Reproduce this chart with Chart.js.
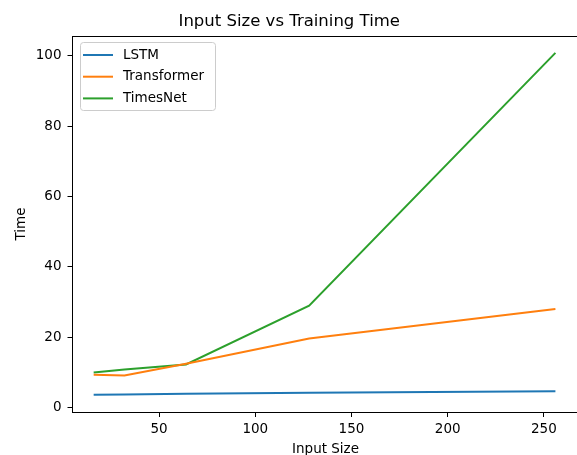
<!DOCTYPE html>
<html>
<head>
<meta charset="utf-8">
<script src="https://cdn.jsdelivr.net/npm/chart.js@4"></script>
<style>
  html, body { margin: 0; padding: 0; background: #fff; overflow: hidden; }
  #wrap { position: relative; width: 580px; height: 455px; }
</style>
</head>
<body>
<div id="wrap"><canvas id="chart"></canvas></div>
<script>
const inputSizes = [16, 32, 64, 128, 256];
const lstmTime = [3.6, 3.7, 3.9, 4.2, 4.6];
const transformerTime = [9.3, 9.1, 12.4, 19.6, 28.0];
const timesNetTime = [9.9, 10.8, 12.2, 28.9, 100.8];
const xTicks = [50, 100, 150, 200, 250];
const yTicks = [0, 20, 40, 60, 80, 100];

const colors = {
  blue: "#1f77b4",
  orange: "#ff7f0e",
  green: "#2ca02c",
  ink: "#000000",
};

const font = "'DejaVu Sans', sans-serif";

function series(label, values, color) {
  return {
    label,
    data: inputSizes.map((x, i) => ({ x, y: values[i] })),
    borderColor: color,
    backgroundColor: color,
    borderWidth: 2,
    pointRadius: 0,
    tension: 0,
  };
}

// top/right spines and the matplotlib-style legend box
const framePlugin = {
  id: "frame",
  afterDatasetsDraw(chart) {
    const { ctx, chartArea: a } = chart;
    ctx.save();
    ctx.strokeStyle = colors.ink;
    ctx.lineWidth = 1;
    ctx.beginPath();
    ctx.moveTo(a.left, a.top + 0.5);
    ctx.lineTo(a.right, a.top + 0.5);
    ctx.moveTo(a.right - 0.5, a.top);
    ctx.lineTo(a.right - 0.5, a.bottom);
    ctx.stroke();

    const box = { x: 80.5, y: 42.5, w: 135, h: 68 };
    ctx.fillStyle = "rgba(255,255,255,0.8)";
    ctx.strokeStyle = "#cccccc";
    ctx.beginPath();
    ctx.roundRect(box.x, box.y, box.w, box.h, 3);
    ctx.fill();
    ctx.stroke();

    ctx.font = `13.5px ${font}`;
    ctx.textBaseline = "middle";
    ctx.fillStyle = colors.ink;
    chart.data.datasets.forEach((ds, i) => {
      const y = 55 + i * 21.7;
      ctx.strokeStyle = ds.borderColor;
      ctx.lineWidth = 2;
      ctx.beginPath();
      ctx.moveTo(83, y);
      ctx.lineTo(113, y);
      ctx.stroke();
      ctx.fillText(ds.label, 123, y);
    });
    ctx.restore();
  },
};

new Chart(document.querySelector("#chart"), {
  type: "line",
  data: {
    datasets: [
      series("LSTM", lstmTime, colors.blue),
      series("Transformer", transformerTime, colors.orange),
      series("TimesNet", timesNetTime, colors.green),
    ],
  },
  options: {
    responsive: true,
    maintainAspectRatio: false,
    animation: false,
    layout: { padding: { left: 0, right: 1.5, top: 0, bottom: 0 } },
    plugins: {
      legend: { display: false },
      tooltip: { enabled: false },
      title: {
        display: true,
        text: "Input Size vs Training Time",
        color: colors.ink,
        font: { family: font, size: 16.5, weight: "normal", lineHeight: 1.2 },
        padding: { top: 12, bottom: 4.2 },
      },
    },
    scales: {
      x: {
        type: "linear",
        min: 5,
        max: 268,
        afterBuildTicks: (scale) => { scale.ticks = xTicks.map((value) => ({ value })); },
        afterFit: (scale) => { scale.height = 43; },
        grid: { drawOnChartArea: false, drawTicks: true, tickLength: 5, color: colors.ink },
        border: { display: true, color: colors.ink, width: 1 },
        ticks: { color: colors.ink, font: { family: font, size: 13.5 }, padding: 4.5, maxRotation: 0 },
        title: {
          display: true,
          text: "Input Size",
          color: colors.ink,
          font: { family: font, size: 13.5 },
          padding: { top: 0, bottom: -2.5 },
        },
      },
      y: {
        type: "linear",
        min: -1.3,
        max: 105.6,
        afterBuildTicks: (scale) => { scale.ticks = yTicks.map((value) => ({ value })); },
        afterFit: (scale) => { scale.width = 72.5; },
        grid: { drawOnChartArea: false, drawTicks: true, tickLength: 5, color: colors.ink },
        border: { display: true, color: colors.ink, width: 1 },
        ticks: { color: colors.ink, font: { family: font, size: 13.5 }, padding: 6 },
        title: {
          display: true,
          text: "Time",
          color: colors.ink,
          font: { family: font, size: 13.5 },
          padding: { top: 13, bottom: 0 },
        },
      },
    },
  },
  plugins: [framePlugin],
});
</script>
</body>
</html>
